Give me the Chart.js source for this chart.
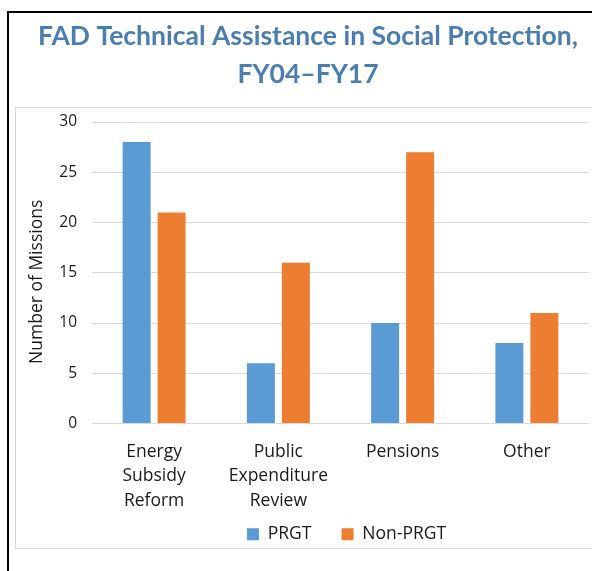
<!DOCTYPE html>
<html>
<head>
<meta charset="utf-8">
<script src="https://cdn.jsdelivr.net/npm/chart.js@4/dist/chart.umd.min.js"></script>
<style>
  html, body { margin: 0; padding: 0; background: #fff; }
  body { width: 592px; height: 571px; position: relative; overflow: hidden; }
  #frame { position: absolute; left: 7px; top: 11px; width: 700px; height: 700px;
           border-left: 2px solid #000; border-top: 2px solid #000; }
  #plotbox { position: absolute; left: 15px; top: 107px; width: 700px; height: 440px;
             border: 1px solid #d9d9d9; }
  #wrap { position: absolute; left: 0; top: 0; width: 592px; height: 571px; }
</style>
</head>
<body>
<div id="frame"></div>
<div id="plotbox"></div>
<div id="wrap"><canvas id="chart"></canvas></div>
<script>
const titleLines = ['FAD Technical Assistance in Social Protection,', 'FY04\u2013FY17'];
const categories = [['Energy', 'Subsidy', 'Reform'], ['Public', 'Expenditure', 'Review'], 'Pensions', 'Other'];
const seriesNames = ['PRGT', 'Non-PRGT'];
const prgt = [28, 6, 10, 8];
const nonPrgt = [21, 16, 27, 11];
const yTicks = [0, 5, 10, 15, 20, 25, 30];

const textFont = "'Open Sans', sans-serif";
const textColor = '#1a1a1a';

// nudge the legend a bit right, Excel centres it slightly off the plot centre
const legendNudge = {
  id: 'legendNudge',
  afterLayout(chart) {
    chart.legend.left += 6;
    chart.legend.right += 6;
  }
};

const ctx = document.getElementById('chart').getContext('2d');
new Chart(ctx, {
  type: 'bar',
  data: {
    labels: categories,
    datasets: [{
      label: seriesNames[0],
      data: prgt,
      backgroundColor: '#5b9bd5',
      categoryPercentage: 0.563,
      barPercentage: 0.8
    }, {
      label: seriesNames[1],
      data: nonPrgt,
      backgroundColor: '#ed7d31',
      categoryPercentage: 0.563,
      barPercentage: 0.8
    }]
  },
  plugins: [legendNudge],
  options: {
    responsive: true,
    maintainAspectRatio: false,
    animation: false,
    layout: { padding: { left: 27, right: 3, top: 0, bottom: 18 } },
    plugins: {
      title: {
        display: true,
        text: titleLines,
        color: '#4a7eb0',
        font: { family: "Lato, sans-serif", size: 26.5, weight: 'bold', lineHeight: '38px' },
        padding: { top: 17, bottom: 29 }
      },
      legend: {
        position: 'bottom',
        fullSize: false,
        labels: {
          boxWidth: 12,
          boxHeight: 12,
          padding: 12,
          color: textColor,
          font: { family: textFont, size: 17.5 },
          generateLabels: (chart) => {
            const items = Chart.defaults.plugins.legend.labels.generateLabels(chart);
            // widen the gap after the first entry like the original legend
            items[0].text = items[0].text + '    ';
            return items;
          }
        }
      },
      tooltip: { enabled: false }
    },
    scales: {
      x: {
        grid: { display: false, drawTicks: false },
        border: { display: false },
        ticks: {
          color: textColor,
          padding: 16,
          font: { family: textFont, size: 17.5, lineHeight: '24.5px' },
          maxRotation: 0,
          autoSkip: false
        },
        afterFit: (scale) => { scale.height = 90; }
      },
      y: {
        min: 0,
        max: 30,
        afterBuildTicks: (scale) => { scale.ticks = yTicks.map(v => ({ value: v })); },
        grid: { color: '#d9d9d9', drawTicks: false },
        border: { display: false },
        ticks: {
          color: textColor,
          padding: 15,
          font: { family: textFont, size: 15.5 }
        },
        title: {
          display: true,
          // trailing spaces push the rotated title a little lower, as in the original
          text: 'Number of Missions    ',
          color: textColor,
          font: { family: textFont, size: 17.5 },
          padding: { top: 0, bottom: 0 }
        },
        afterFit: (scale) => { scale.width = 65; }
      }
    }
  }
});
</script>
</body>
</html>
